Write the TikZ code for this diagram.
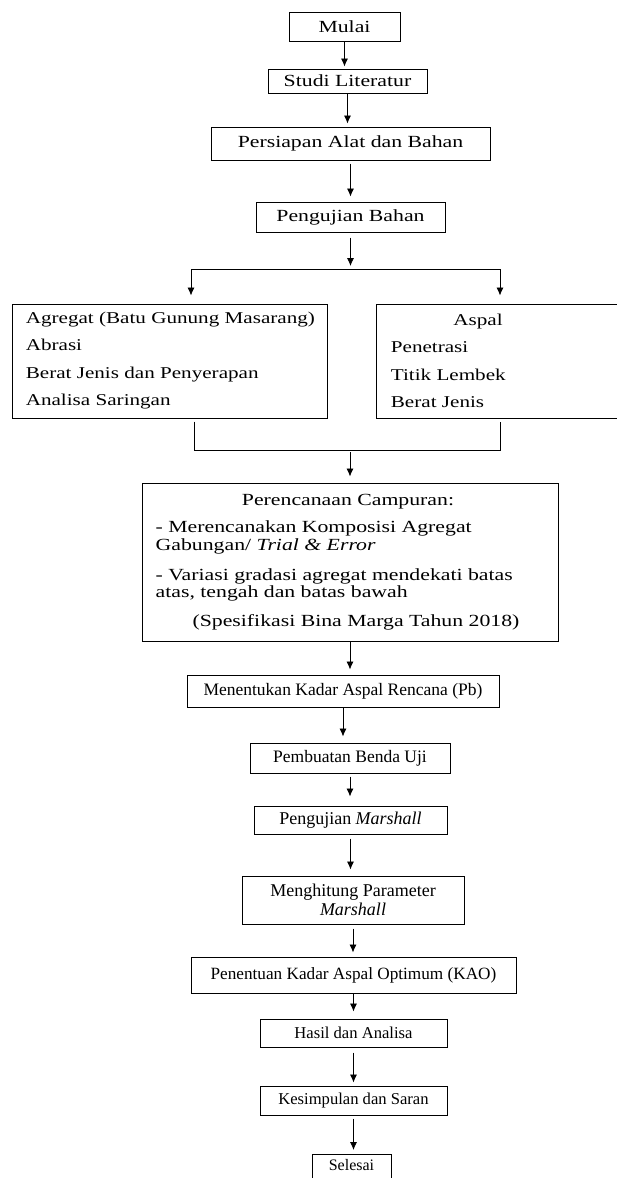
\documentclass[tikz,border=0pt]{standalone}
\usepackage{fontspec}
\setmainfont{Liberation Serif}
\newfontfamily\wide[FakeStretch=1.28]{Liberation Serif}
\usetikzlibrary{arrows.meta}

\begin{document}
\begin{tikzpicture}[x=1pt,y=-1pt]
    \tikzstyle{box}=[draw, line width=1pt, inner sep=0pt]
    \tikzstyle{arr}=[line width=0.8pt, -{Latex[length=8pt,width=7pt]}]
    \tikzstyle{txt}=[inner sep=0pt, anchor=base west]
    \useasboundingbox (0,0) rectangle (617,1178);
    % upper part
    \foreach \n/\x/\y/\w/\h/\t in {mulai/344.5/26.5/111/29/Mulai, studi/347.5/81/159/24/Studi Literatur,
    siap/350.5/143.5/279/33/Persiapan Alat dan Bahan, ujibahan/350.5/217/189/30/Pengujian Bahan}
        \node[box, minimum width=\w pt, minimum height=\h pt, font=\wide\fontsize{17}{19}\selectfont] (\n) at (\x,\y) {\t};
    \node[box, minimum width=314.4pt, minimum height=114pt] (agregat) at (169.8,361) {};
    \node[box, minimum width=244pt, minimum height=114pt] (aspal) at (498,361) {};
    \begin{scope}[font=\wide\fontsize{16.5}{18}\selectfont]
        \foreach \y/\t [count=\i] in {323/{Agregat (Batu Gunung Masarang)}, 350/Abrasi, 378/Berat Jenis dan Penyerapan, 405/Analisa Saringan}
            \node[txt] (agr\i) at (25.6,\y) {\t};
        \node[txt, anchor=base] (asp0) at (478,325) {Aspal};
        \foreach \y/\t [count=\i] in {352.7/Penetrasi, 380.7/Titik Lembek, 407/Berat Jenis}
            \node[txt] (asp\i) at (390.7,\y) {\t};
    \end{scope}
    \node[box, minimum width=416pt, minimum height=158pt] (campuran) at (350,562) {};
    \begin{scope}[font=\wide\fontsize{17}{19}\selectfont]
        \node[txt, anchor=base] (cmp0) at (348,505) {Perencanaan Campuran:};
        \foreach \y/\t [count=\i] in {532.7/- Merencanakan Komposisi Agregat, 550.7/{Gabungan/ \textit{Trial \& Error}},
        580/- Variasi gradasi agregat mendekati batas, 597/{atas, tengah dan batas bawah}}
            \node[txt] (cmp\i) at (155.5,\y) {\t};
        \node[txt, anchor=base] (cmp5) at (356,626.7) {(Spesifikasi Bina Marga Tahun 2018)};
    \end{scope}
    % lower part
    \foreach \n/\x/\y/\w/\h/\s/\t in {rencana/343/691/312/32/17.5/{Menentukan Kadar Aspal Rencana (Pb)},
    benda/350/758/200/30/17.5/Pembuatan Benda Uji, marshall/350.5/820/193/28/18/{Pengujian \textit{Marshall}},
    optimum/353.5/975/325/36/17.2/{Penentuan Kadar Aspal Optimum (KAO)}, hasil/353.5/1033/187/28/16.6/Hasil dan Analisa,
    simpul/353.5/1100.5/187/29/16.6/Kesimpulan dan Saran}
        \node[box, minimum width=\w pt, minimum height=\h pt, font=\fontsize{\s}{\s}\selectfont] (\n) at (\x,\y) {\t};
    \node[box, minimum width=222pt, minimum height=48pt, align=center, font=\fontsize{18}{19}\selectfont] (hitung) at (353,900)
        {Menghitung Parameter\\\textit{Marshall}};
    \node[box, anchor=north, minimum width=79pt, text height=12pt, text depth=14pt, inner ysep=4pt,
        font=\fontsize{16}{17}\selectfont] (selesai) at (351.5,1154) {Selesai};
    % connectors
    \foreach \a/\b/\s/\e in {mulai/studi/0/2, studi/siap/0/3, siap/ujibahan/3/5, campuran/rencana/0/5,
    rencana/benda/0/6, benda/marshall/3/9, marshall/hitung/4/6, hitung/optimum/4/4, optimum/hasil/0/7,
    hasil/simpul/5/3, simpul/selesai/3/4}
        \draw[arr, shorten <=\s pt, shorten >=\e pt] (\a.south) -- (\a.south |- \b.north);
    \coordinate (bl) at (191,269);
    \coordinate (br) at (500,269);
    \draw[line width=0.8pt] (bl) -- (br);
    \draw[arr, shorten <=5pt, shorten >=3pt] (ujibahan.south) -- (ujibahan.south |- bl);
    \draw[arr, shorten >=8pt] (bl) -- (bl |- agregat.north);
    \draw[arr, shorten >=8pt] (br) -- (br |- aspal.north);
    \coordinate (ml) at (194,450);
    \coordinate (mr) at (500.6,450);
    \draw[line width=0.8pt, shorten <=3pt, shorten >=3pt] (agregat.south -| ml) -- (ml) -- (mr) -- (aspal.south -| mr);
    \draw[arr, shorten <=2pt, shorten >=6pt] (ml -| campuran.north) -- (campuran.north);
\end{tikzpicture}
\end{document}
